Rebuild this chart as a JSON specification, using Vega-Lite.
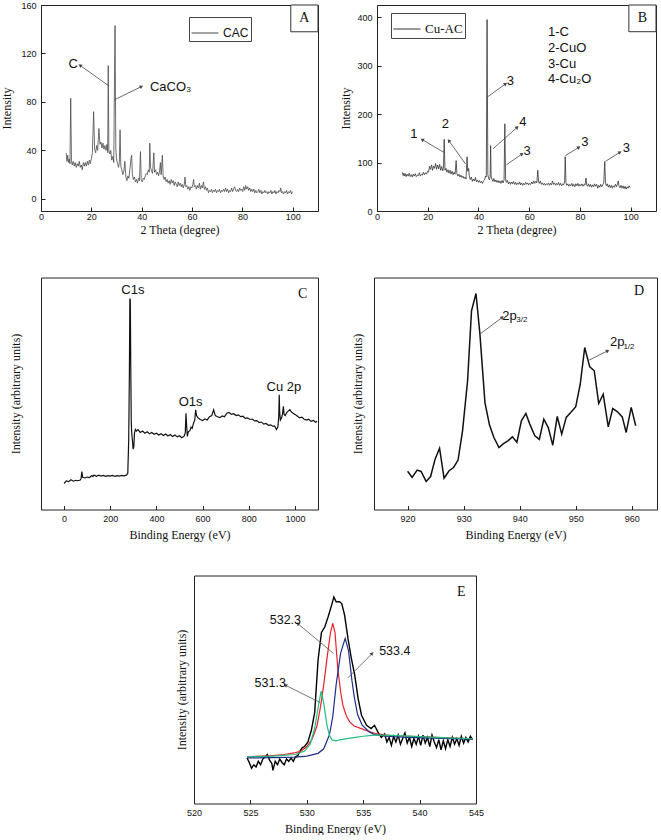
{
 "$schema": "https://vega.github.io/schema/vega-lite/v6.json",
 "padding": {"left": 0, "top": 0, "right": 0, "bottom": 0},
 "background": "white",
 "config": {
  "view": {"stroke": "#222", "strokeWidth": 1},
  "axis": {"grid": false, "domain": false, "tickColor": "#222", "tickSize": -4, "labelFont": "Liberation Sans", "labelFontSize": 9, "labelColor": "#111", "titleFont": "Liberation Serif", "titleFontSize": 12, "titleFontWeight": "normal", "titleColor": "#111", "labelFlush": false, "minExtent": 0, "titlePadding": 3},
  "axisX": {"labelPadding": 5},
  "axisY": {"labelPadding": 9}
 },
 "datasets": {
  "A": [{"x":10.0,"y":38},{"x":10.3,"y":31},{"x":10.6,"y":36},{"x":10.9,"y":30},{"x":11.2,"y":33},{"x":11.5,"y":29},{"x":11.8,"y":83},{"x":12.1,"y":31},{"x":12.4,"y":28},{"x":12.8,"y":31},{"x":13.2,"y":27},{"x":13.6,"y":30},{"x":14.0,"y":26},{"x":14.4,"y":29},{"x":14.8,"y":27},{"x":15.2,"y":31},{"x":15.6,"y":26},{"x":16.0,"y":28},{"x":16.4,"y":24},{"x":16.8,"y":30},{"x":17.2,"y":27},{"x":17.6,"y":30},{"x":18.0,"y":27},{"x":18.4,"y":31},{"x":18.8,"y":28},{"x":19.2,"y":32},{"x":19.6,"y":29},{"x":20.0,"y":33},{"x":20.4,"y":38},{"x":20.9,"y":72},{"x":21.3,"y":41},{"x":21.7,"y":38},{"x":22.1,"y":44},{"x":22.5,"y":40},{"x":23.0,"y":58},{"x":23.4,"y":45},{"x":23.8,"y":47},{"x":24.2,"y":42},{"x":24.6,"y":46},{"x":25.0,"y":41},{"x":25.4,"y":44},{"x":25.8,"y":40},{"x":26.2,"y":45},{"x":26.5,"y":38},{"x":26.7,"y":110},{"x":26.95,"y":40},{"x":27.3,"y":37},{"x":27.7,"y":40},{"x":28.1,"y":32},{"x":28.5,"y":35},{"x":28.9,"y":30},{"x":29.1,"y":80},{"x":29.4,"y":143},{"x":29.7,"y":42},{"x":30.0,"y":33},{"x":30.4,"y":29},{"x":30.8,"y":26},{"x":31.1,"y":30},{"x":31.4,"y":57},{"x":31.7,"y":27},{"x":32.1,"y":24},{"x":32.5,"y":20},{"x":32.9,"y":23},{"x":33.3,"y":31},{"x":33.7,"y":18},{"x":34.1,"y":15},{"x":34.5,"y":19},{"x":34.9,"y":17},{"x":35.3,"y":24},{"x":35.7,"y":33},{"x":36.0,"y":36},{"x":36.3,"y":20},{"x":36.7,"y":16},{"x":37.1,"y":18},{"x":37.5,"y":14},{"x":37.9,"y":16},{"x":38.3,"y":13},{"x":38.7,"y":17},{"x":39.1,"y":15},{"x":39.5,"y":39},{"x":39.8,"y":16},{"x":40.2,"y":14},{"x":40.6,"y":17},{"x":41.0,"y":16},{"x":41.4,"y":19},{"x":41.8,"y":21},{"x":42.2,"y":20},{"x":42.6,"y":24},{"x":43.0,"y":22},{"x":43.2,"y":46},{"x":43.5,"y":26},{"x":43.9,"y":23},{"x":44.3,"y":21},{"x":44.8,"y":38},{"x":45.1,"y":22},{"x":45.5,"y":24},{"x":45.9,"y":20},{"x":46.3,"y":22},{"x":46.7,"y":19},{"x":47.1,"y":23},{"x":47.4,"y":30},{"x":47.7,"y":20},{"x":48.2,"y":36},{"x":48.5,"y":19},{"x":48.9,"y":16},{"x":49.3,"y":18},{"x":49.7,"y":14},{"x":50.1,"y":16},{"x":50.5,"y":13},{"x":50.9,"y":15},{"x":51.3,"y":12},{"x":51.7,"y":16},{"x":52.1,"y":13},{"x":52.5,"y":15},{"x":52.9,"y":11},{"x":53.3,"y":14},{"x":53.7,"y":12},{"x":54.1,"y":10},{"x":54.5,"y":14},{"x":54.9,"y":11},{"x":55.3,"y":13},{"x":55.7,"y":10},{"x":56.1,"y":12},{"x":56.5,"y":9},{"x":56.9,"y":12},{"x":57.2,"y":18},{"x":57.5,"y":10},{"x":57.9,"y":11},{"x":58.3,"y":8},{"x":58.7,"y":10},{"x":59.1,"y":7},{"x":59.5,"y":10},{"x":59.9,"y":9},{"x":60.3,"y":12},{"x":60.6,"y":16},{"x":60.9,"y":10},{"x":61.3,"y":11},{"x":61.7,"y":8},{"x":62.1,"y":11},{"x":62.5,"y":9},{"x":62.9,"y":13},{"x":63.3,"y":8},{"x":63.7,"y":11},{"x":64.1,"y":9},{"x":64.5,"y":14},{"x":64.9,"y":8},{"x":65.3,"y":10},{"x":65.7,"y":7},{"x":66.1,"y":9},{"x":66.5,"y":5},{"x":66.9,"y":7},{"x":67.3,"y":6},{"x":67.7,"y":8},{"x":68.1,"y":5},{"x":68.5,"y":7},{"x":68.9,"y":6},{"x":69.3,"y":8},{"x":69.7,"y":5},{"x":70.1,"y":7},{"x":70.5,"y":6},{"x":70.9,"y":8},{"x":71.3,"y":5},{"x":71.7,"y":7},{"x":72.1,"y":6},{"x":72.5,"y":8},{"x":72.9,"y":6},{"x":73.3,"y":9},{"x":73.7,"y":6},{"x":74.1,"y":8},{"x":74.5,"y":5},{"x":74.9,"y":7},{"x":75.3,"y":6},{"x":75.7,"y":9},{"x":76.1,"y":6},{"x":76.5,"y":8},{"x":76.9,"y":10},{"x":77.3,"y":7},{"x":77.7,"y":6},{"x":78.1,"y":8},{"x":78.5,"y":6},{"x":78.9,"y":9},{"x":79.3,"y":7},{"x":79.7,"y":8},{"x":80.1,"y":6},{"x":80.5,"y":10},{"x":80.9,"y":7},{"x":81.3,"y":11},{"x":81.7,"y":8},{"x":82.1,"y":10},{"x":82.5,"y":7},{"x":82.9,"y":9},{"x":83.3,"y":6},{"x":83.7,"y":8},{"x":84.1,"y":6},{"x":84.5,"y":8},{"x":84.9,"y":5},{"x":85.3,"y":7},{"x":85.7,"y":5},{"x":86.1,"y":6},{"x":86.5,"y":8},{"x":86.9,"y":5},{"x":87.3,"y":7},{"x":87.7,"y":4},{"x":88.1,"y":6},{"x":88.5,"y":5},{"x":88.9,"y":7},{"x":89.3,"y":5},{"x":89.7,"y":6},{"x":90.1,"y":4},{"x":90.5,"y":6},{"x":90.9,"y":5},{"x":91.3,"y":7},{"x":91.7,"y":4},{"x":92.1,"y":6},{"x":92.5,"y":5},{"x":92.9,"y":7},{"x":93.3,"y":4},{"x":93.7,"y":6},{"x":94.1,"y":5},{"x":94.5,"y":7},{"x":94.9,"y":6},{"x":95.2,"y":9},{"x":95.5,"y":5},{"x":95.9,"y":6},{"x":96.3,"y":4},{"x":96.7,"y":6},{"x":97.1,"y":5},{"x":97.5,"y":7},{"x":97.9,"y":4},{"x":98.3,"y":6},{"x":98.7,"y":5},{"x":99.1,"y":7},{"x":99.5,"y":4},{"x":99.9,"y":6}],
  "B": [{"x":10.0,"y":80},{"x":10.3,"y":73},{"x":10.6,"y":78},{"x":10.9,"y":72},{"x":11.2,"y":77},{"x":11.5,"y":71},{"x":11.9,"y":76},{"x":12.3,"y":72},{"x":12.7,"y":78},{"x":13.1,"y":71},{"x":13.5,"y":75},{"x":13.9,"y":70},{"x":14.3,"y":76},{"x":14.7,"y":72},{"x":15.1,"y":77},{"x":15.5,"y":71},{"x":15.9,"y":74},{"x":16.3,"y":73},{"x":16.7,"y":79},{"x":17.1,"y":72},{"x":17.5,"y":76},{"x":17.9,"y":74},{"x":18.3,"y":80},{"x":18.7,"y":75},{"x":19.1,"y":79},{"x":19.5,"y":76},{"x":19.9,"y":82},{"x":20.3,"y":80},{"x":20.7,"y":92},{"x":21.1,"y":86},{"x":21.5,"y":95},{"x":21.9,"y":84},{"x":22.3,"y":93},{"x":22.7,"y":88},{"x":23.1,"y":98},{"x":23.5,"y":86},{"x":23.9,"y":95},{"x":24.3,"y":87},{"x":24.7,"y":96},{"x":25.1,"y":84},{"x":25.5,"y":92},{"x":25.9,"y":83},{"x":26.2,"y":88},{"x":26.5,"y":148},{"x":26.8,"y":84},{"x":27.2,"y":88},{"x":27.6,"y":80},{"x":28.0,"y":85},{"x":28.4,"y":78},{"x":28.8,"y":84},{"x":29.2,"y":76},{"x":29.6,"y":82},{"x":30.0,"y":75},{"x":30.4,"y":80},{"x":30.8,"y":76},{"x":31.2,"y":104},{"x":31.5,"y":77},{"x":31.9,"y":72},{"x":32.3,"y":76},{"x":32.7,"y":70},{"x":33.1,"y":74},{"x":33.5,"y":69},{"x":33.9,"y":72},{"x":34.3,"y":67},{"x":34.7,"y":70},{"x":35.1,"y":66},{"x":35.5,"y":112},{"x":35.8,"y":82},{"x":36.1,"y":88},{"x":36.4,"y":72},{"x":36.8,"y":65},{"x":37.2,"y":70},{"x":37.6,"y":61},{"x":38.0,"y":66},{"x":38.4,"y":62},{"x":38.8,"y":69},{"x":39.2,"y":60},{"x":39.6,"y":64},{"x":40.0,"y":59},{"x":40.4,"y":63},{"x":40.8,"y":58},{"x":41.2,"y":61},{"x":41.6,"y":57},{"x":42.0,"y":62},{"x":42.4,"y":64},{"x":42.8,"y":72},{"x":43.1,"y":70},{"x":43.4,"y":395},{"x":43.7,"y":75},{"x":44.0,"y":68},{"x":44.3,"y":64},{"x":44.6,"y":70},{"x":44.8,"y":135},{"x":45.0,"y":72},{"x":45.3,"y":66},{"x":45.7,"y":61},{"x":46.1,"y":67},{"x":46.5,"y":60},{"x":46.9,"y":64},{"x":47.3,"y":59},{"x":47.7,"y":63},{"x":48.1,"y":58},{"x":48.5,"y":62},{"x":48.9,"y":57},{"x":49.3,"y":63},{"x":49.7,"y":58},{"x":50.1,"y":64},{"x":50.4,"y":180},{"x":50.7,"y":66},{"x":51.0,"y":59},{"x":51.4,"y":63},{"x":51.8,"y":56},{"x":52.2,"y":60},{"x":52.6,"y":55},{"x":53.0,"y":60},{"x":53.4,"y":56},{"x":53.8,"y":61},{"x":54.2,"y":55},{"x":54.6,"y":59},{"x":55.0,"y":54},{"x":55.4,"y":58},{"x":55.8,"y":55},{"x":56.2,"y":60},{"x":56.6,"y":54},{"x":57.0,"y":58},{"x":57.4,"y":53},{"x":57.8,"y":57},{"x":58.2,"y":54},{"x":58.6,"y":59},{"x":59.0,"y":55},{"x":59.4,"y":58},{"x":59.8,"y":54},{"x":60.2,"y":57},{"x":60.6,"y":55},{"x":61.0,"y":60},{"x":61.4,"y":56},{"x":61.8,"y":62},{"x":62.2,"y":57},{"x":62.6,"y":61},{"x":63.0,"y":58},{"x":63.4,"y":84},{"x":63.7,"y":60},{"x":64.0,"y":57},{"x":64.4,"y":62},{"x":64.8,"y":55},{"x":65.2,"y":58},{"x":65.6,"y":54},{"x":66.0,"y":57},{"x":66.4,"y":53},{"x":66.8,"y":56},{"x":67.2,"y":54},{"x":67.6,"y":58},{"x":68.0,"y":53},{"x":68.4,"y":57},{"x":68.8,"y":54},{"x":69.2,"y":62},{"x":69.6,"y":55},{"x":70.0,"y":58},{"x":70.4,"y":53},{"x":70.8,"y":57},{"x":71.2,"y":54},{"x":71.6,"y":59},{"x":72.0,"y":53},{"x":72.4,"y":57},{"x":72.8,"y":52},{"x":73.2,"y":56},{"x":73.6,"y":54},{"x":74.0,"y":62},{"x":74.2,"y":112},{"x":74.5,"y":58},{"x":74.8,"y":53},{"x":75.2,"y":56},{"x":75.6,"y":51},{"x":76.0,"y":55},{"x":76.4,"y":52},{"x":76.8,"y":57},{"x":77.2,"y":51},{"x":77.6,"y":55},{"x":78.0,"y":50},{"x":78.4,"y":56},{"x":78.8,"y":52},{"x":79.2,"y":57},{"x":79.6,"y":51},{"x":80.0,"y":55},{"x":80.4,"y":52},{"x":80.8,"y":56},{"x":81.2,"y":51},{"x":81.6,"y":55},{"x":82.0,"y":53},{"x":82.4,"y":68},{"x":82.7,"y":54},{"x":83.0,"y":51},{"x":83.4,"y":56},{"x":83.8,"y":50},{"x":84.2,"y":55},{"x":84.6,"y":49},{"x":85.0,"y":54},{"x":85.4,"y":50},{"x":85.8,"y":56},{"x":86.2,"y":51},{"x":86.6,"y":55},{"x":87.0,"y":47},{"x":87.4,"y":53},{"x":87.8,"y":49},{"x":88.2,"y":55},{"x":88.6,"y":50},{"x":89.0,"y":54},{"x":89.4,"y":58},{"x":89.8,"y":102},{"x":90.1,"y":58},{"x":90.4,"y":52},{"x":90.8,"y":56},{"x":91.2,"y":49},{"x":91.6,"y":54},{"x":92.0,"y":48},{"x":92.4,"y":53},{"x":92.8,"y":47},{"x":93.2,"y":52},{"x":93.6,"y":49},{"x":94.0,"y":55},{"x":94.4,"y":50},{"x":94.8,"y":56},{"x":95.1,"y":62},{"x":95.4,"y":52},{"x":95.8,"y":48},{"x":96.2,"y":53},{"x":96.6,"y":47},{"x":97.0,"y":52},{"x":97.4,"y":46},{"x":97.8,"y":51},{"x":98.2,"y":45},{"x":98.6,"y":50},{"x":99.0,"y":47},{"x":99.4,"y":52},{"x":99.8,"y":48}],
  "C": [{"x":0,"y":11.2},{"x":10,"y":12.3},{"x":20,"y":12.0},{"x":30,"y":12.8},{"x":40,"y":12.2},{"x":50,"y":12.6},{"x":60,"y":12.4},{"x":70,"y":12.7},{"x":74,"y":13.5},{"x":77,"y":16.3},{"x":80,"y":14.0},{"x":90,"y":13.6},{"x":100,"y":14.0},{"x":110,"y":13.8},{"x":120,"y":14.6},{"x":125,"y":14.2},{"x":130,"y":14.9},{"x":140,"y":14.3},{"x":150,"y":14.8},{"x":160,"y":14.4},{"x":170,"y":14.7},{"x":180,"y":14.3},{"x":190,"y":14.6},{"x":200,"y":14.4},{"x":210,"y":14.7},{"x":220,"y":14.3},{"x":230,"y":14.6},{"x":240,"y":14.4},{"x":250,"y":14.7},{"x":260,"y":14.5},{"x":270,"y":14.8},{"x":276,"y":15.6},{"x":280,"y":30},{"x":283,"y":60},{"x":285,"y":91},{"x":287,"y":90},{"x":289,"y":60},{"x":291,"y":38},{"x":293,"y":33},{"x":296,"y":30},{"x":299,"y":26},{"x":302,"y":27},{"x":305,"y":33},{"x":309,"y":34.5},{"x":313,"y":33.8},{"x":320,"y":34.4},{"x":330,"y":33.2},{"x":340,"y":33.8},{"x":350,"y":32.9},{"x":360,"y":33.5},{"x":370,"y":32.6},{"x":380,"y":33.2},{"x":390,"y":32.4},{"x":400,"y":32.9},{"x":410,"y":32.1},{"x":420,"y":32.7},{"x":430,"y":31.9},{"x":440,"y":32.5},{"x":450,"y":31.7},{"x":460,"y":32.3},{"x":470,"y":31.5},{"x":480,"y":32.1},{"x":490,"y":31.3},{"x":500,"y":31.8},{"x":510,"y":30.9},{"x":520,"y":31.6},{"x":525,"y":33},{"x":528,"y":41.5},{"x":531,"y":36},{"x":534,"y":31.5},{"x":538,"y":33.5},{"x":545,"y":34},{"x":550,"y":35.5},{"x":555,"y":35},{"x":560,"y":37},{"x":566,"y":38.5},{"x":570,"y":43},{"x":574,"y":40.5},{"x":580,"y":39.5},{"x":590,"y":38.8},{"x":600,"y":38.3},{"x":610,"y":39},{"x":620,"y":38.6},{"x":630,"y":40},{"x":640,"y":40.5},{"x":648,"y":43},{"x":655,"y":40.5},{"x":665,"y":40},{"x":675,"y":39.6},{"x":685,"y":40.3},{"x":695,"y":40},{"x":705,"y":41.5},{"x":715,"y":41.8},{"x":725,"y":41},{"x":735,"y":41.3},{"x":745,"y":40.5},{"x":755,"y":40.8},{"x":765,"y":40},{"x":775,"y":40.2},{"x":785,"y":39.3},{"x":795,"y":39.5},{"x":805,"y":38.8},{"x":815,"y":39},{"x":825,"y":38.2},{"x":835,"y":38.3},{"x":845,"y":37.5},{"x":855,"y":37.7},{"x":865,"y":36.8},{"x":875,"y":37.1},{"x":885,"y":36.3},{"x":895,"y":36.5},{"x":905,"y":35.8},{"x":912,"y":36},{"x":920,"y":34.5},{"x":926,"y":35.5},{"x":930,"y":40},{"x":932,"y":49.5},{"x":934,"y":42},{"x":937,"y":38.5},{"x":942,"y":39.5},{"x":946,"y":41},{"x":950,"y":44.5},{"x":953,"y":41},{"x":958,"y":40.5},{"x":965,"y":41.8},{"x":972,"y":42.5},{"x":978,"y":43},{"x":985,"y":42},{"x":992,"y":41.5},{"x":1000,"y":41},{"x":1010,"y":40.3},{"x":1020,"y":39.5},{"x":1030,"y":39.8},{"x":1040,"y":38.9},{"x":1050,"y":38.5},{"x":1060,"y":38.9},{"x":1070,"y":38},{"x":1080,"y":38.4},{"x":1090,"y":37.6},{"x":1096,"y":38}],
  "D": [{"x":920.0,"y":16.5},{"x":920.8,"y":13.8},{"x":921.7,"y":17.0},{"x":922.4,"y":16.4},{"x":923.3,"y":12.1},{"x":924.1,"y":14.2},{"x":924.9,"y":21.7},{"x":925.7,"y":26.4},{"x":926.5,"y":13.5},{"x":927.4,"y":16.7},{"x":928.2,"y":18.1},{"x":929.0,"y":21.3},{"x":929.8,"y":33.9},{"x":930.7,"y":55.5},{"x":931.4,"y":85.6},{"x":932.2,"y":93.1},{"x":932.9,"y":75.6},{"x":933.8,"y":46.1},{"x":934.6,"y":36.5},{"x":935.4,"y":31.0},{"x":936.3,"y":26.7},{"x":937.1,"y":28.4},{"x":937.9,"y":29.6},{"x":938.7,"y":31.3},{"x":939.5,"y":29.0},{"x":940.3,"y":38.2},{"x":941.1,"y":41.4},{"x":941.8,"y":36.8},{"x":942.7,"y":31.8},{"x":943.5,"y":30.2},{"x":944.3,"y":38.9},{"x":945.1,"y":35.3},{"x":945.9,"y":27.7},{"x":946.7,"y":40.1},{"x":947.5,"y":32.5},{"x":948.3,"y":39.7},{"x":949.1,"y":41.8},{"x":950.0,"y":44.3},{"x":950.8,"y":54.0},{"x":951.6,"y":69.8},{"x":952.5,"y":61.5},{"x":953.3,"y":59.8},{"x":954.1,"y":45.7},{"x":954.9,"y":49.7},{"x":955.8,"y":35.6},{"x":956.6,"y":43.5},{"x":957.4,"y":42.2},{"x":958.3,"y":39.9},{"x":959.0,"y":33.2},{"x":959.9,"y":44.0},{"x":960.7,"y":36.1}],
  "Ek": [{"x":524.7,"y":20},{"x":524.9,"y":18},{"x":525.1,"y":15.5},{"x":525.3,"y":17},{"x":525.5,"y":16},{"x":525.7,"y":18.5},{"x":525.9,"y":17},{"x":526.1,"y":19.5},{"x":526.3,"y":20.5},{"x":526.5,"y":21.5},{"x":526.7,"y":19},{"x":526.9,"y":17.5},{"x":527.0,"y":14.5},{"x":527.2,"y":18.5},{"x":527.4,"y":17},{"x":527.6,"y":19.5},{"x":527.8,"y":18},{"x":528.0,"y":17},{"x":528.2,"y":19.5},{"x":528.4,"y":18.5},{"x":528.6,"y":20},{"x":528.8,"y":18.5},{"x":529.0,"y":20.5},{"x":529.2,"y":21},{"x":529.4,"y":23},{"x":529.6,"y":24.5},{"x":529.8,"y":25},{"x":530.1,"y":27},{"x":530.4,"y":32},{"x":530.7,"y":40},{"x":531.0,"y":63},{"x":531.3,"y":75},{"x":531.6,"y":77.5},{"x":531.9,"y":82},{"x":532.2,"y":87},{"x":532.4,"y":90.6},{"x":532.6,"y":88.5},{"x":532.9,"y":88.5},{"x":533.1,"y":87.7},{"x":533.35,"y":82.6},{"x":533.65,"y":72.4},{"x":533.95,"y":63.6},{"x":534.25,"y":56.3},{"x":534.55,"y":46},{"x":534.85,"y":38.7},{"x":535.3,"y":34.3},{"x":535.7,"y":32.9},{"x":536.0,"y":34.3},{"x":536.3,"y":31.4},{"x":536.6,"y":29},{"x":536.9,"y":30.5},{"x":537.1,"y":27},{"x":537.3,"y":29},{"x":537.5,"y":25.5},{"x":537.7,"y":29.5},{"x":537.9,"y":27},{"x":538.1,"y":30},{"x":538.3,"y":26},{"x":538.5,"y":28.5},{"x":538.7,"y":31},{"x":538.9,"y":26.5},{"x":539.1,"y":29},{"x":539.3,"y":25},{"x":539.5,"y":28.5},{"x":539.7,"y":26},{"x":539.9,"y":29.5},{"x":540.1,"y":25.5},{"x":540.3,"y":30},{"x":540.5,"y":26.5},{"x":540.7,"y":29},{"x":540.9,"y":25},{"x":541.1,"y":30},{"x":541.3,"y":27},{"x":541.5,"y":24.5},{"x":541.7,"y":28},{"x":541.9,"y":23.5},{"x":542.1,"y":27.5},{"x":542.3,"y":24},{"x":542.5,"y":28},{"x":542.7,"y":25},{"x":542.9,"y":29},{"x":543.1,"y":26},{"x":543.3,"y":28.5},{"x":543.5,"y":25.5},{"x":543.7,"y":29.5},{"x":543.9,"y":26.5},{"x":544.1,"y":29},{"x":544.3,"y":27},{"x":544.5,"y":29.5},{"x":544.7,"y":28}],
  "Er": [{"x":524.7,"y":20.5},{"x":526,"y":20.8},{"x":527,"y":21},{"x":528,"y":21.5},{"x":529,"y":22.3},{"x":529.5,"y":23},{"x":530,"y":25},{"x":530.5,"y":28.5},{"x":530.9,"y":34},{"x":531.2,"y":42},{"x":531.5,"y":52},{"x":531.8,"y":64},{"x":532.1,"y":75},{"x":532.3,"y":79},{"x":532.5,"y":75},{"x":532.75,"y":59},{"x":533.0,"y":49},{"x":533.2,"y":43},{"x":533.5,"y":38.5},{"x":533.8,"y":35.8},{"x":534.2,"y":34},{"x":535,"y":32.5},{"x":536,"y":30.8},{"x":537,"y":30},{"x":538,"y":29.6},{"x":540,"y":29.3},{"x":542,"y":28.9},{"x":544.7,"y":28.4}],
  "Eb": [{"x":524.7,"y":20},{"x":527,"y":20.1},{"x":529,"y":20.3},{"x":530,"y":20.8},{"x":531,"y":22},{"x":531.5,"y":24},{"x":532,"y":30},{"x":532.3,"y":38},{"x":532.6,"y":52},{"x":533.0,"y":66},{"x":533.4,"y":72.4},{"x":533.7,"y":67},{"x":534.0,"y":54},{"x":534.2,"y":47},{"x":534.5,"y":39},{"x":534.9,"y":34.5},{"x":535.5,"y":31.5},{"x":536,"y":30.2},{"x":537,"y":29.5},{"x":539,"y":29},{"x":542,"y":28.6},{"x":544.7,"y":28.2}],
  "Eg": [{"x":524.7,"y":20.5},{"x":527,"y":20.8},{"x":529,"y":21.5},{"x":529.8,"y":23},{"x":530.3,"y":26},{"x":530.7,"y":33},{"x":531.0,"y":42},{"x":531.27,"y":49.3},{"x":531.5,"y":44},{"x":531.8,"y":34},{"x":532.0,"y":30},{"x":532.25,"y":27.8},{"x":532.6,"y":27.5},{"x":533,"y":28},{"x":534,"y":28.8},{"x":535,"y":29.5},{"x":536,"y":30},{"x":537,"y":30},{"x":538,"y":29.8},{"x":540,"y":29.3},{"x":542,"y":28.9},{"x":544.7,"y":28.4}],
  "Aarrow": [{"x":15.5,"y":110.2,"x2":26.7,"y2":93.6,"ang":305},{"x":39.9,"y":92.7,"x2":29.1,"y2":81.7,"ang":64}],
  "Atext": [{"x":12.8,"y":111.6,"t":"C"},{"x":51.5,"y":92.5,"t":"CaCO₃"}],
  "Abox": [{"x":99.2,"x2":110,"y":137.9,"y2":160,"t":"A","cx":104.6,"cy":149}],
  "Barrow": [{"x":17.8,"y":147.3,"x2":26.3,"y2":121.2,"ang":300},{"x":28.3,"y":145.3,"x2":34.9,"y2":97.1,"ang":324},{"x":50.7,"y":262.3,"x2":43.4,"y2":234.8,"ang":54},{"x":55.3,"y":172.8,"x2":45.7,"y2":128.1,"ang":48},{"x":57.2,"y":117.7,"x2":51.1,"y2":95.7,"ang":56},{"x":79.6,"y":131.5,"x2":74.3,"y2":114.3,"ang":58},{"x":95.8,"y":121.2,"x2":90.1,"y2":102.6,"ang":58}],
  "Btext": [{"x":14.5,"y":159,"t":"1"},{"x":27.0,"y":179.7,"t":"2"},{"x":52.6,"y":269.2,"t":"3"},{"x":57.5,"y":183,"t":"4"},{"x":59.2,"y":124.6,"t":"3"},{"x":82.0,"y":141.8,"t":"3"},{"x":98.3,"y":130,"t":"3"}],
  "Bkey": [{"x":67.4,"y":369,"t":"1-C"},{"x":67.4,"y":336,"t":"2-CuO"},{"x":67.4,"y":303.6,"t":"3-Cu"},{"x":67.4,"y":271.3,"t":"4-Cu₂O"}],
  "Bbox": [{"x":99.3,"x2":110,"y":369.9,"y2":425,"t":"B","cx":104.6,"cy":397.5}],
  "Ctext": [{"x":298,"y":94.5,"t":"C1s"},{"x":548,"y":46.4,"t":"O1s"},{"x":952,"y":53,"t":"Cu 2p"}],
  "Cletter": [{"x":1034,"y":93,"t":"C"}],
  "Darrow": [{"x":936.9,"y":82.8,"x2":932.9,"y2":75.6,"ang":53},{"x":955.7,"y":68.4,"x2":952.4,"y2":64.4,"ang":63}],
  "Dtext": [{"x":936.9,"y":83.5,"t":"2p"},{"x":956.1,"y":72,"t":"2p"}],
  "Dsub": [{"x":939.4,"y":81.6,"t":"3/2"},{"x":958.5,"y":70.1,"t":"1/2"}],
  "Dletter": [{"x":961.3,"y":94,"t":"D"}],
  "Earrow": [{"x":529.2,"y":78.9,"x2":532.37,"y2":65.8,"ang":310},{"x":535.8,"y":65.8,"x2":533.64,"y2":55.1,"ang":45},{"x":528.1,"y":51.9,"x2":531.18,"y2":44.3,"ang":297}],
  "Etext": [{"x":528.1,"y":80.7,"t":"532.3"},{"x":537.8,"y":66.8,"t":"533.4"},{"x":526.76,"y":53,"t":"531.3"}],
  "Eletter": [{"x":543.7,"y":92.8,"t":"E"}]
 },
 "spacing": 33.5,
 "resolve": {"scale": {"color": "independent"}, "legend": {"color": "independent"}},
 "vconcat": [
  {
   "spacing": 40.5,
   "resolve": {"scale": {"color": "independent"}, "legend": {"color": "independent"}},
   "vconcat": [
    {
     "spacing": 20,
     "resolve": {"scale": {"color": "independent"}, "legend": {"color": "independent"}},
     "hconcat": [
      {
       "width": 277, "height": 206,
       "layer": [
        {"data": {"name": "A"}, "mark": {"type": "line", "strokeWidth": 0.8},
         "encoding": {
          "x": {"field": "x", "type": "quantitative", "scale": {"domain": [0, 110], "nice": false, "zero": false}, "axis": {"values": [0, 20, 40, 60, 80, 100], "title": "2 Theta (degree)"}},
          "y": {"field": "y", "type": "quantitative", "scale": {"domain": [-10, 160], "nice": false, "zero": false}, "axis": {"values": [0, 20, 40, 60, 80, 100, 120, 140, 160], "title": "Intensity", "titlePadding": 7}},
          "color": {"datum": "CAC", "type": "nominal", "scale": {"range": ["#4a4a4a"]}, "legend": {"orient": "none", "legendX": 148, "legendY": 12, "title": null, "symbolType": "stroke", "symbolSize": 729, "symbolStrokeWidth": 1, "labelFont": "Liberation Sans", "labelFontSize": 12, "labelColor": "#111", "strokeColor": "#444", "fillColor": "white", "padding": 2, "labelOffset": 4}}
         }},
        {"data": {"name": "Aarrow"}, "mark": {"type": "rule", "color": "#444", "strokeWidth": 0.8},
         "encoding": {"x": {"field": "x", "type": "quantitative"}, "y": {"field": "y", "type": "quantitative"}, "x2": {"field": "x2"}, "y2": {"field": "y2"}}},
        {"data": {"name": "Aarrow"}, "mark": {"type": "point", "shape": "triangle-up", "filled": true, "size": 16, "color": "#444", "opacity": 1},
         "encoding": {"x": {"field": "x", "type": "quantitative"}, "y": {"field": "y", "type": "quantitative"}, "angle": {"field": "ang", "type": "quantitative", "scale": null}}},
        {"data": {"name": "Atext"}, "mark": {"type": "text", "font": "Liberation Sans", "fontSize": 13, "color": "#111"},
         "encoding": {"x": {"field": "x", "type": "quantitative"}, "y": {"field": "y", "type": "quantitative"}, "text": {"field": "t"}}},
        {"data": {"name": "Abox"}, "mark": {"type": "rect", "fill": "white", "stroke": "#333", "strokeWidth": 1},
         "encoding": {"x": {"field": "x", "type": "quantitative"}, "x2": {"field": "x2"}, "y": {"field": "y", "type": "quantitative"}, "y2": {"field": "y2"}}},
        {"data": {"name": "Abox"}, "mark": {"type": "text", "font": "Liberation Serif", "fontSize": 14, "color": "#111"},
         "encoding": {"x": {"field": "cx", "type": "quantitative"}, "y": {"field": "cy", "type": "quantitative"}, "text": {"field": "t"}}}
       ]
      },
      {
       "width": 279, "height": 206,
       "layer": [
        {"data": {"name": "B"}, "mark": {"type": "line", "strokeWidth": 0.8},
         "encoding": {
          "x": {"field": "x", "type": "quantitative", "scale": {"domain": [0, 110], "nice": false, "zero": false}, "axis": {"values": [0, 20, 40, 60, 80, 100], "title": "2 Theta (degree)"}},
          "y": {"field": "y", "type": "quantitative", "scale": {"domain": [0, 425], "nice": false}, "axis": {"values": [0, 50, 100, 150, 200, 250, 300, 350, 400], "title": "Intensity", "titlePadding": 4}},
          "color": {"datum": "Cu-AC", "type": "nominal", "scale": {"range": ["#333333"]}, "legend": {"orient": "none", "legendX": 14, "legendY": 8, "title": null, "symbolType": "stroke", "symbolSize": 729, "symbolStrokeWidth": 1, "labelFont": "Liberation Serif", "labelFontSize": 13, "labelColor": "#111", "strokeColor": "#444", "fillColor": "white", "padding": 2, "labelOffset": 4}}
         }},
        {"data": {"name": "Barrow"}, "mark": {"type": "rule", "color": "#444", "strokeWidth": 0.8},
         "encoding": {"x": {"field": "x", "type": "quantitative"}, "y": {"field": "y", "type": "quantitative"}, "x2": {"field": "x2"}, "y2": {"field": "y2"}}},
        {"data": {"name": "Barrow"}, "mark": {"type": "point", "shape": "triangle-up", "filled": true, "size": 16, "color": "#444", "opacity": 1},
         "encoding": {"x": {"field": "x", "type": "quantitative"}, "y": {"field": "y", "type": "quantitative"}, "angle": {"field": "ang", "type": "quantitative", "scale": null}}},
        {"data": {"name": "Btext"}, "mark": {"type": "text", "font": "Liberation Sans", "fontSize": 13, "color": "#111"},
         "encoding": {"x": {"field": "x", "type": "quantitative"}, "y": {"field": "y", "type": "quantitative"}, "text": {"field": "t"}}},
        {"data": {"name": "Bkey"}, "mark": {"type": "text", "font": "Liberation Sans", "fontSize": 13, "color": "#111", "align": "left"},
         "encoding": {"x": {"field": "x", "type": "quantitative"}, "y": {"field": "y", "type": "quantitative"}, "text": {"field": "t"}}},
        {"data": {"name": "Bbox"}, "mark": {"type": "rect", "fill": "white", "stroke": "#333", "strokeWidth": 1},
         "encoding": {"x": {"field": "x", "type": "quantitative"}, "x2": {"field": "x2"}, "y": {"field": "y", "type": "quantitative"}, "y2": {"field": "y2"}}},
        {"data": {"name": "Bbox"}, "mark": {"type": "text", "font": "Liberation Serif", "fontSize": 14, "color": "#111"},
         "encoding": {"x": {"field": "cx", "type": "quantitative"}, "y": {"field": "cy", "type": "quantitative"}, "text": {"field": "t"}}}
       ]
      }
     ]
    },
    {
     "spacing": 30,
     "hconcat": [
      {
       "width": 277, "height": 232,
       "layer": [
        {"data": {"name": "C"}, "mark": {"type": "line", "strokeWidth": 1.2, "color": "#111"},
         "encoding": {
          "x": {"field": "x", "type": "quantitative", "scale": {"domain": [-100, 1100], "nice": false, "zero": false}, "axis": {"values": [0, 200, 400, 600, 800, 1000], "format": "d", "title": "Binding Energy (eV)", "labelPadding": 9, "titlePadding": 6}},
          "y": {"field": "y", "type": "quantitative", "scale": {"domain": [0, 100], "nice": false}, "axis": {"labels": false, "ticks": false, "title": "Intensity (arbitrary units)", "titlePadding": 19}}
         }},
        {"data": {"name": "Ctext"}, "mark": {"type": "text", "font": "Liberation Sans", "fontSize": 13, "color": "#111"},
         "encoding": {"x": {"field": "x", "type": "quantitative"}, "y": {"field": "y", "type": "quantitative"}, "text": {"field": "t"}}},
        {"data": {"name": "Cletter"}, "mark": {"type": "text", "font": "Liberation Serif", "fontSize": 14, "color": "#111"},
         "encoding": {"x": {"field": "x", "type": "quantitative"}, "y": {"field": "y", "type": "quantitative"}, "text": {"field": "t"}}}
       ]
      },
      {
       "width": 283, "height": 232,
       "layer": [
        {"data": {"name": "D"}, "mark": {"type": "line", "strokeWidth": 1.5, "color": "#111"},
         "encoding": {
          "x": {"field": "x", "type": "quantitative", "scale": {"domain": [914, 964.5], "nice": false, "zero": false}, "axis": {"values": [920, 930, 940, 950, 960], "title": "Binding Energy (eV)", "labelPadding": 9, "titlePadding": 6}},
          "y": {"field": "y", "type": "quantitative", "scale": {"domain": [0, 100], "nice": false}, "axis": {"labels": false, "ticks": false, "title": "Intensity (arbitrary units)", "titlePadding": 10}}
         }},
        {"data": {"name": "Darrow"}, "mark": {"type": "rule", "color": "#444", "strokeWidth": 0.8},
         "encoding": {"x": {"field": "x", "type": "quantitative"}, "y": {"field": "y", "type": "quantitative"}, "x2": {"field": "x2"}, "y2": {"field": "y2"}}},
        {"data": {"name": "Darrow"}, "mark": {"type": "point", "shape": "triangle-up", "filled": true, "size": 16, "color": "#444", "opacity": 1},
         "encoding": {"x": {"field": "x", "type": "quantitative"}, "y": {"field": "y", "type": "quantitative"}, "angle": {"field": "ang", "type": "quantitative", "scale": null}}},
        {"data": {"name": "Dtext"}, "mark": {"type": "text", "font": "Liberation Sans", "fontSize": 13, "color": "#111", "align": "left"},
         "encoding": {"x": {"field": "x", "type": "quantitative"}, "y": {"field": "y", "type": "quantitative"}, "text": {"field": "t"}}},
        {"data": {"name": "Dsub"}, "mark": {"type": "text", "font": "Liberation Sans", "fontSize": 8, "color": "#111", "align": "left"},
         "encoding": {"x": {"field": "x", "type": "quantitative"}, "y": {"field": "y", "type": "quantitative"}, "text": {"field": "t"}}},
        {"data": {"name": "Dletter"}, "mark": {"type": "text", "font": "Liberation Serif", "fontSize": 14, "color": "#111"},
         "encoding": {"x": {"field": "x", "type": "quantitative"}, "y": {"field": "y", "type": "quantitative"}, "text": {"field": "t"}}}
       ]
      }
     ]
    }
   ]
  },
  {
   "spacing": 0,
   "hconcat": [
    {
     "width": 133, "height": 20,
     "data": {"values": []},
     "mark": {"type": "point", "opacity": 0},
     "encoding": {},
     "view": {"stroke": null}
    },
    {
     "width": 282, "height": 228,
     "layer": [
      {"data": {"name": "Ek"}, "mark": {"type": "line", "strokeWidth": 1.4, "color": "#000"},
       "encoding": {
        "x": {"field": "x", "type": "quantitative", "scale": {"domain": [520, 545], "nice": false, "zero": false}, "axis": {"values": [520, 525, 530, 535, 540, 545], "title": "Binding Energy (eV)", "labelPadding": 9, "titlePadding": 6}},
        "y": {"field": "y", "type": "quantitative", "scale": {"domain": [0, 100], "nice": false}, "axis": {"labels": false, "ticks": false, "title": "Intensity (arbitrary units)", "titlePadding": 6}}
       }},
      {"data": {"name": "Er"}, "mark": {"type": "line", "strokeWidth": 1.2, "color": "#e8202a"},
       "encoding": {"x": {"field": "x", "type": "quantitative"}, "y": {"field": "y", "type": "quantitative"}}},
      {"data": {"name": "Eb"}, "mark": {"type": "line", "strokeWidth": 1.2, "color": "#1f2d8a"},
       "encoding": {"x": {"field": "x", "type": "quantitative"}, "y": {"field": "y", "type": "quantitative"}}},
      {"data": {"name": "Eg"}, "mark": {"type": "line", "strokeWidth": 1.2, "color": "#1fc07c"},
       "encoding": {"x": {"field": "x", "type": "quantitative"}, "y": {"field": "y", "type": "quantitative"}}},
      {"data": {"name": "Earrow"}, "mark": {"type": "rule", "color": "#555", "strokeWidth": 0.8},
       "encoding": {"x": {"field": "x", "type": "quantitative"}, "y": {"field": "y", "type": "quantitative"}, "x2": {"field": "x2"}, "y2": {"field": "y2"}}},
      {"data": {"name": "Earrow"}, "mark": {"type": "point", "shape": "triangle-up", "filled": true, "size": 16, "color": "#444", "opacity": 1},
       "encoding": {"x": {"field": "x", "type": "quantitative"}, "y": {"field": "y", "type": "quantitative"}, "angle": {"field": "ang", "type": "quantitative", "scale": null}}},
      {"data": {"name": "Etext"}, "mark": {"type": "text", "font": "Liberation Sans", "fontSize": 12.5, "color": "#111"},
       "encoding": {"x": {"field": "x", "type": "quantitative"}, "y": {"field": "y", "type": "quantitative"}, "text": {"field": "t"}}},
      {"data": {"name": "Eletter"}, "mark": {"type": "text", "font": "Liberation Serif", "fontSize": 14, "color": "#111"},
       "encoding": {"x": {"field": "x", "type": "quantitative"}, "y": {"field": "y", "type": "quantitative"}, "text": {"field": "t"}}}
     ]
    }
   ]
  }
 ]
}
